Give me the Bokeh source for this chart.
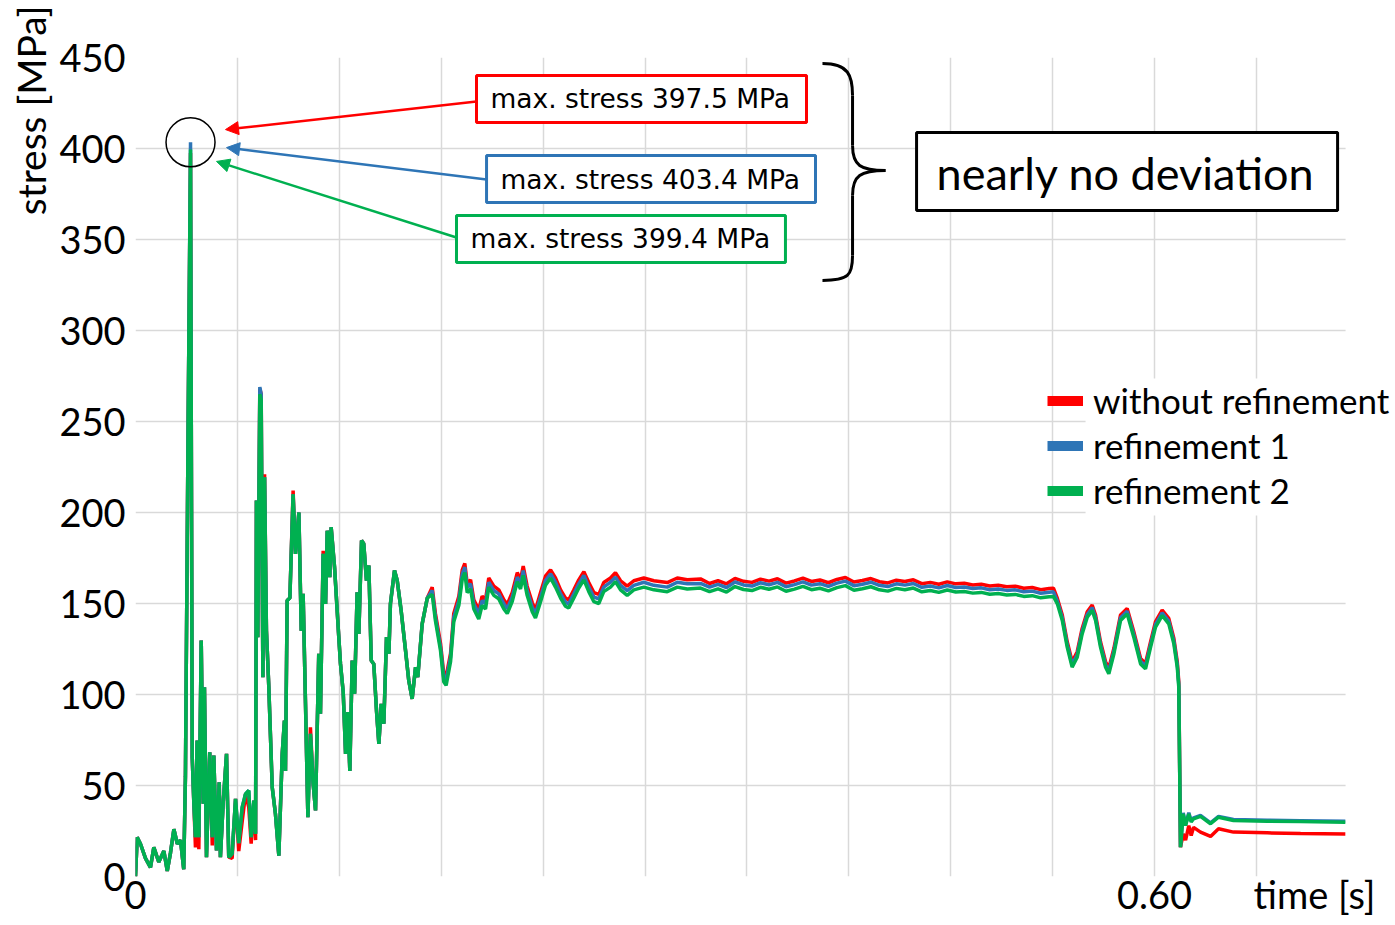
import math

from bokeh.embed import file_html
from bokeh.models import (Arrow, BoxAnnotation, FixedTicker, Label, Legend,
                          LegendItem, NormalHead, Range1d, Title)
from bokeh.plotting import figure
from bokeh.resources import INLINE

# ---------------------------------------------------------------------------
# Stress history at the monitored element, three mesh variants.
# The record is split into phases; each phase has its own time base.
# ---------------------------------------------------------------------------

# impact phase: initial spike and strongly oscillating response
t_impact = [
    0.0000, 0.0010, 0.0029, 0.0059, 0.0088, 0.0108, 0.0137, 0.0167, 0.0187, 0.0206,
    0.0226, 0.0246, 0.0265, 0.0284, 0.0294, 0.0310, 0.0324, 0.0334, 0.0343, 0.0353,
    0.0363, 0.0373, 0.0387, 0.0399, 0.0406, 0.0418, 0.0437, 0.0452, 0.0461, 0.0477,
    0.0493, 0.0500, 0.0516, 0.0536, 0.0549, 0.0569, 0.0589, 0.0608, 0.0628, 0.0648,
    0.0667, 0.0681, 0.0697, 0.0707, 0.0712, 0.0720, 0.0732, 0.0740, 0.0750, 0.0760,
    0.0771, 0.0785, 0.0805, 0.0824, 0.0844, 0.0864, 0.0877, 0.0883, 0.0893, 0.0909,
    0.0928, 0.0942, 0.0962, 0.0976, 0.0987, 0.1001, 0.1015, 0.1030, 0.1046, 0.1060,
    0.1079, 0.1089, 0.1105, 0.1119, 0.1129, 0.1144, 0.1152, 0.1172, 0.1197, 0.1207,
    0.1223, 0.1237, 0.1250, 0.1262, 0.1276, 0.1290, 0.1305, 0.1315, 0.1331, 0.1344,
    0.1360, 0.1374, 0.1388, 0.1403, 0.1419, 0.1433, 0.1447, 0.1462, 0.1478, 0.1492,
    0.1501, 0.1525, 0.1541, 0.1564, 0.1590, 0.1609, 0.1629, 0.1649, 0.1662, 0.1688,
    0.1718,
]
impact_red = [
    0, 21.5, 18, 10, 5, 16, 8, 14, 3, 13,
    26, 18, 20, 4, 55, 250, 397.5, 65.6, 41.7, 16,
    74.7, 15, 129.7, 40, 104, 10.6, 68.3, 17, 66.5, 14.3,
    51.8, 10.6, 40, 67.4, 10.6, 10, 42.7, 14, 30, 45.4,
    38, 18, 41.7, 20, 206.6, 131.5, 268, 265, 109.5, 221,
    135, 104, 49, 34.4, 11.5, 67.4, 85.7, 58, 151.6, 153,
    212, 177.3, 200, 135, 155.3, 94.9, 32.6, 82, 50.9, 36.3,
    122.4, 89.4, 179, 149.8, 190, 164.5, 191.9, 170, 131.5, 116.8,
    101.3, 67.4, 90.3, 58, 118.7, 100.4, 156.2, 133.3, 184.6, 182.8,
    162.6, 170.9, 118.7, 116.8, 91.2, 72.9, 94.9, 83.9, 131.5, 122.4,
    149.8, 168.1, 162.6, 146.2, 124.2, 107.7, 97.6, 115, 109.5, 138.8,
    153,
]
impact_blue = [
    0, 21.5, 18, 10, 5, 16, 8, 14, 3, 13,
    26, 18, 20, 4, 55, 250, 403.4, 65.6, 41.7, 21.6,
    74.7, 21.6, 129.7, 40, 104, 10.6, 68.3, 21.6, 66.5, 14.3,
    51.8, 10.6, 40, 67.4, 10.6, 12.5, 42.7, 18.3, 38, 45.4,
    47.2, 21.6, 41.7, 23.4, 206.6, 131.5, 268.9, 265, 109.5, 219.4,
    135, 104, 49, 34.4, 11.5, 67.4, 85.7, 58, 151.6, 153,
    210, 177.3, 200, 135, 155.3, 94.9, 32.6, 78.4, 50.9, 36.3,
    122.4, 89.4, 177.3, 149.8, 190, 164.5, 191.9, 170, 131.5, 116.8,
    101.3, 67.4, 90.3, 58, 118.7, 100.4, 156.2, 133.3, 184.6, 182.8,
    162.6, 170.9, 118.7, 116.8, 91.2, 72.9, 94.9, 83.9, 131.5, 122.4,
    149.8, 168.1, 162.6, 146.2, 124.2, 107.7, 97.6, 115, 109.5, 138.8,
    153,
]
impact_green = [
    0, 21.5, 18, 10, 5, 16, 8, 14, 3, 13,
    26, 18, 20, 4, 55, 250, 399.4, 65.6, 41.7, 21.6,
    74.7, 21.6, 129.7, 40, 104, 10.6, 68.3, 21.6, 66.5, 14.3,
    51.8, 10.6, 40, 67.4, 10.6, 12.5, 42.7, 18.3, 38, 45.4,
    47.2, 21.6, 41.7, 23.4, 206.6, 131.5, 265, 262, 109.5, 219.4,
    135, 104, 49, 34.4, 11.5, 67.4, 85.7, 58, 151.6, 153,
    210, 177.3, 200, 135, 155.3, 94.9, 32.6, 78.4, 50.9, 36.3,
    122.4, 89.4, 177.3, 149.8, 190, 164.5, 191.9, 170, 131.5, 116.8,
    101.3, 67.4, 90.3, 58, 118.7, 100.4, 156.2, 133.3, 184.6, 182.8,
    162.6, 170.9, 118.7, 116.8, 91.2, 72.9, 94.9, 83.9, 131.5, 122.4,
    149.8, 168.1, 162.6, 146.2, 124.2, 107.7, 97.6, 115, 109.5, 138.8,
    153,
]

# settling phase: decaying oscillation
t_settle = [
    0.1747, 0.1766, 0.1796, 0.1815, 0.1829, 0.1855, 0.1874, 0.1904, 0.1924, 0.1939,
    0.1953, 0.1973, 0.1992, 0.2021, 0.2041, 0.2061, 0.2080, 0.2110, 0.2139, 0.2169,
    0.2189, 0.2218, 0.2248, 0.2267, 0.2283, 0.2306, 0.2336, 0.2355, 0.2385, 0.2414,
    0.2444, 0.2473, 0.2503, 0.2532, 0.2551, 0.2581, 0.2610, 0.2640, 0.2669, 0.2699,
    0.2728, 0.2757, 0.2797, 0.2826, 0.2856, 0.2895, 0.2934, 0.2993, 0.3052, 0.3131,
    0.3190, 0.3249, 0.3327,
]
settle_red = [
    159, 144.5, 128, 111.5, 110, 122.5, 144.5, 154, 168.5, 172,
    161, 163, 152, 146.5, 154, 152, 164, 159.5, 157.5, 152,
    149.5, 156, 167, 163, 170.5, 159.5, 150.5, 146.5, 156, 165,
    168.5, 164, 157.5, 153, 152, 157.5, 163, 167.5, 161.5, 156,
    155, 161.5, 164, 167, 162.5, 159.5, 162.5, 164, 162.5, 161.5,
    164, 163, 163.5,
]
settle_blue = [
    157.1, 142.5, 126, 109.5, 107.7, 120.5, 142.5, 151.6, 166.3, 170,
    159, 160.8, 149.8, 144.3, 151.6, 149.8, 161.7, 157.1, 155.3, 149.8,
    147.1, 153.5, 164.5, 160.8, 168.1, 157.1, 148, 144.3, 153.5, 162.6,
    166.3, 161.7, 155.3, 150.7, 149.8, 155.3, 160.8, 165.4, 159, 153.5,
    152.6, 159, 161.7, 164.5, 160, 157.1, 160, 161.7, 160, 159,
    161.7, 160.8, 161,
]
settle_green = [
    155, 140.5, 124, 107, 105, 118, 140, 149, 163.5, 167,
    156, 158, 147, 141.5, 149, 147, 159, 154.5, 152.5, 147,
    144.5, 151, 162, 158, 165.5, 154.5, 145.5, 142, 151, 160,
    164, 159, 153, 148.5, 147.5, 153, 158.5, 163, 156.5, 151,
    150, 156.5, 159, 162, 157.5, 154.5, 157.5, 159, 157.5, 156.5,
    159, 158, 158.5,
]

# plateau: quasi-static load level
t_plateau = [
    0.3380, 0.3430, 0.3480, 0.3530, 0.3580, 0.3630, 0.3680, 0.3730, 0.3780, 0.3830,
    0.3880, 0.3930, 0.3980, 0.4030, 0.4080, 0.4130, 0.4180, 0.4230, 0.4280, 0.4330,
    0.4380, 0.4430, 0.4480, 0.4530, 0.4580, 0.4630, 0.4680, 0.4730, 0.4780, 0.4830,
    0.4880, 0.4930, 0.4980, 0.5030, 0.5080, 0.5130, 0.5180, 0.5230, 0.5280, 0.5330,
    0.5380, 0.5405,
]
plateau_red = [
    161.0, 162.5, 160.8, 163.8, 162.2, 161.6, 163.4, 162.3, 163.6, 161.2,
    162.4, 163.9, 162.1, 162.9, 161.4, 163.2, 164.3, 161.8, 162.6, 163.7,
    162.0, 161.3, 162.8, 162.1, 163.0, 160.9, 161.6, 160.6, 161.9, 160.8,
    161.1, 160.2, 160.6, 159.6, 160.0, 159.2, 159.5, 158.4, 158.8, 157.6,
    158.2, 158.4,
]
plateau_blue = [
    159.0, 160.5, 158.8, 161.8, 160.2, 159.6, 161.4, 160.3, 161.6, 159.2,
    160.4, 161.9, 160.1, 160.9, 159.4, 161.2, 162.3, 159.8, 160.6, 161.7,
    160.0, 159.3, 160.8, 160.1, 161.0, 158.9, 159.6, 158.6, 159.9, 158.8,
    159.1, 158.2, 158.6, 157.6, 158.0, 157.2, 157.5, 156.4, 156.8, 155.6,
    156.2, 156.4,
]
plateau_green = [
    156.5, 158.0, 156.3, 159.3, 157.7, 157.1, 158.9, 157.8, 159.1, 156.7,
    157.9, 159.4, 157.6, 158.4, 156.9, 158.7, 159.8, 157.3, 158.1, 159.2,
    157.5, 156.8, 158.3, 157.6, 158.5, 156.4, 157.1, 156.1, 157.4, 156.3,
    156.6, 155.7, 156.1, 155.1, 155.5, 154.7, 155.0, 153.9, 154.3, 153.1,
    153.7, 153.9,
]

# unloading: three load cycles followed by the drop
t_unload = [
    0.5428, 0.5457, 0.5486, 0.5515, 0.5545, 0.5574, 0.5604, 0.5633, 0.5653, 0.5682,
    0.5712, 0.5731, 0.5761, 0.5800, 0.5839, 0.5878, 0.5918, 0.5947, 0.5977, 0.6006,
    0.6045, 0.6084, 0.6114, 0.6134, 0.6143, 0.6153,
]
unload_red = [
    152.8, 143.7, 129, 118, 123.5, 136.3, 145.5, 149.2, 143.7, 129,
    118, 114.4, 125.4, 143.7, 147.3, 134.5, 119.8, 117.1, 129, 140,
    146.4, 141.8, 130.8, 118, 107, 16.1,
]
unload_blue = [
    151.3, 142.2, 127.5, 116.5, 122, 134.8, 144, 147.7, 142.2, 127.5,
    116.5, 112.9, 123.9, 142.2, 145.8, 133, 118.3, 115.6, 127.5, 138.5,
    144.9, 140.3, 129.3, 116.5, 105.5, 16.1,
]
unload_green = [
    149.8, 140.7, 126, 115, 120.5, 133.3, 142.5, 146.2, 140.7, 126,
    115, 111.4, 122.4, 140.7, 144.3, 131.5, 116.8, 114.1, 126, 137,
    143.4, 138.8, 127.8, 115, 104, 16.1,
]

# residual stress after release
t_residual = [0.6169, 0.6183, 0.6202, 0.6216, 0.6230, 0.6271, 0.6330, 0.6377,
              0.6465, 0.6664, 0.6860, 0.7125]
residual_red = [23.4, 20, 28, 22.5, 27, 24.4, 22, 26.2, 24.4, 24, 23.6, 23.4]
residual_blue = [35, 28.5, 35, 30.5, 32.2, 33.5, 29.5, 33, 31.3, 30.9, 30.7, 30.3]
residual_green = [34.4, 28, 34.4, 30, 31.7, 33, 29, 32.6, 30.8, 30.4, 30.2, 29.8]

time_s = t_impact + t_settle + t_plateau + t_unload + t_residual
stress_red = impact_red + settle_red + plateau_red + unload_red + residual_red
stress_blue = impact_blue + settle_blue + plateau_blue + unload_blue + residual_blue
stress_green = impact_green + settle_green + plateau_green + unload_green + residual_green

series_names = ["without refinement", "refinement 1", "refinement 2"]
RED, BLUE, GREEN = "#FF0000", "#2E75B6", "#00B050"

y_ticks = [0, 50, 100, 150, 200, 250, 300, 350, 400, 450]
x_grid_ticks = [0.0, 0.06, 0.12, 0.18, 0.24, 0.30, 0.36, 0.42, 0.48, 0.54, 0.60, 0.66]
T_END = 0.7125          # end of the recorded time window
T_AXIS_TITLE = 0.6942   # where the time-axis title sits along the axis
x_label_ticks = [0, 0.6, T_AXIS_TITLE]
x_label_text = {0: "0", 0.6: "0.60", T_AXIS_TITLE: "time [s]"}

AXIS_FONT = "Lato"
BOX_FONT = "DejaVu Sans"

# the frame runs to the right canvas edge so the legend text is not clipped;
# everything past T_END is blanked out below
p = figure(
    width=1395, height=925,
    x_range=Range1d(0, 0.7419), y_range=Range1d(0, 450),
    output_backend="svg", toolbar_location=None,
    min_border_left=135, min_border_right=0,
    min_border_top=57, min_border_bottom=49,
)
p.outline_line_color = None
p.background_fill_color = "white"
p.border_fill_color = "white"

# grid
p.xgrid.ticker = FixedTicker(ticks=x_grid_ticks)
p.ygrid.ticker = FixedTicker(ticks=y_ticks)
for g in (p.xgrid, p.ygrid):
    g.grid_line_color = "#d9d9d9"
    g.grid_line_width = 1.5

# axes
p.xaxis.ticker = FixedTicker(ticks=x_label_ticks)
p.xaxis.major_label_overrides = x_label_text
p.yaxis.ticker = FixedTicker(ticks=y_ticks)
for ax in (p.xaxis, p.yaxis):
    ax.axis_line_color = None
    ax.major_tick_line_color = None
    ax.minor_tick_line_color = None
    ax.major_label_text_font = AXIS_FONT
    ax.major_label_text_font_size = "38px"
    ax.major_label_text_color = "black"
p.xaxis.major_label_standoff = -12
p.yaxis.major_label_standoff = 4

# vertical axis title, pushed to the top end of the axis
p.add_layout(Title(text="stress [MPa]", align="right", offset=-52, standoff=6,
                   text_font=AXIS_FONT, text_font_size="39px",
                   text_font_style="normal", text_color="black"), "left")

# curves (finest mesh drawn on top)
p.line(time_s, stress_red, line_color=RED, line_width=3.5)
p.line(time_s, stress_blue, line_color=BLUE, line_width=3.5)
p.line(time_s, stress_green, line_color=GREEN, line_width=3.5)

# blank area right of the time window
p.add_layout(BoxAnnotation(left=T_END, fill_color="white", fill_alpha=1,
                           line_alpha=0))

# circle around the peak
i_peak = stress_blue.index(max(stress_blue))
p.scatter([time_s[i_peak]], [max(stress_blue)], marker="circle", size=49,
          fill_color=None, line_color="black", line_width=1.5)

# callouts: arrow, framed box, text
callouts = [
    (RED, stress_red, (0.2008, 425.8, 0.0530, 410.4), (0.2008, 0.3951, 440.1, 414.3), (0.2090, 427.2)),
    (BLUE, stress_blue, (0.2067, 383.0, 0.0536, 400.5), (0.2067, 0.4004, 396.2, 370.3), (0.2149, 383.2)),
    (GREEN, stress_green, (0.1890, 351.1, 0.0477, 392.9), (0.1890, 0.3827, 363.2, 337.4), (0.1973, 350.3)),
]
for color, series, (xs, ys, xe, ye), _, _ in callouts:
    p.add_layout(Arrow(x_start=xs, y_start=ys, x_end=xe, y_end=ye,
                       line_color=color, line_width=2.5,
                       end=NormalHead(size=13, fill_color=color, line_color=color)))
for color, series, _, (bl, br, bt, bb), (tx, ty) in callouts:
    p.add_layout(BoxAnnotation(left=bl, right=br, top=bt, bottom=bb,
                               fill_color="white", fill_alpha=1,
                               line_color=color, line_alpha=1, line_width=3))
    p.add_layout(Label(x=tx, y=ty, text=f"max. stress {max(series):.1f} MPa",
                       text_align="left", text_baseline="middle",
                       text_font=BOX_FONT, text_font_size="26.5px",
                       text_color="black"))

# curly brace grouping the three callouts
bx0, bx1, bx_tip, bx_c = 0.4045, 0.4222, 0.4416, 0.4198
p.bezier(x0=[bx0, bx1, bx_tip, bx1], y0=[446.7, 401.6, 387.9, 341.2],
         x1=[bx1, bx_tip, bx1, bx0], y1=[429.1, 387.9, 374.2, 327.5],
         cx0=[bx_c, bx1, 0.4269, bx1], cy0=[446.7, 390.7, 387.9, 330.2],
         cx1=[bx1, 0.4269, bx1, bx_c], cy1=[440.1, 387.9, 385.2, 327.5],
         line_color="black", line_width=3)
p.segment(x0=[bx1, bx1], y0=[429.1, 374.2], x1=[bx1, bx1], y1=[401.6, 341.2],
          line_color="black", line_width=3)

p.add_layout(BoxAnnotation(left=0.4599, right=0.7078, top=408.8, bottom=365.9,
                           fill_color="white", fill_alpha=1,
                           line_color="black", line_alpha=1, line_width=3))
p.add_layout(Label(x=0.4717, y=386.8, text="nearly no deviation",
                   text_align="left", text_baseline="middle",
                   text_font=AXIS_FONT, text_font_size="45px",
                   text_color="black"))

# legend: white behind the labels, wide colour swatches
p.add_layout(BoxAnnotation(left=0.5594, top=273.6, bottom=198.4,
                           fill_color="white", fill_alpha=1, line_alpha=0))
swatches = [p.line(time_s, s, line_color=c, line_width=10, visible=False)
            for s, c in ((stress_red, RED), (stress_blue, BLUE), (stress_green, GREEN))]
legend = Legend(
    items=[LegendItem(label=n, renderers=[r]) for n, r in zip(series_names, swatches)],
    location=(912, 363.5),
    glyph_width=36, glyph_height=45, label_height=45,
    label_standoff=10, spacing=0, padding=0, margin=0,
    label_text_font=AXIS_FONT, label_text_font_size="35px",
    label_text_color="black",
    background_fill_alpha=0, border_line_alpha=0,
    inactive_fill_alpha=0,
)
p.add_layout(legend)

open("out.html", "w").write(file_html(p, INLINE))
